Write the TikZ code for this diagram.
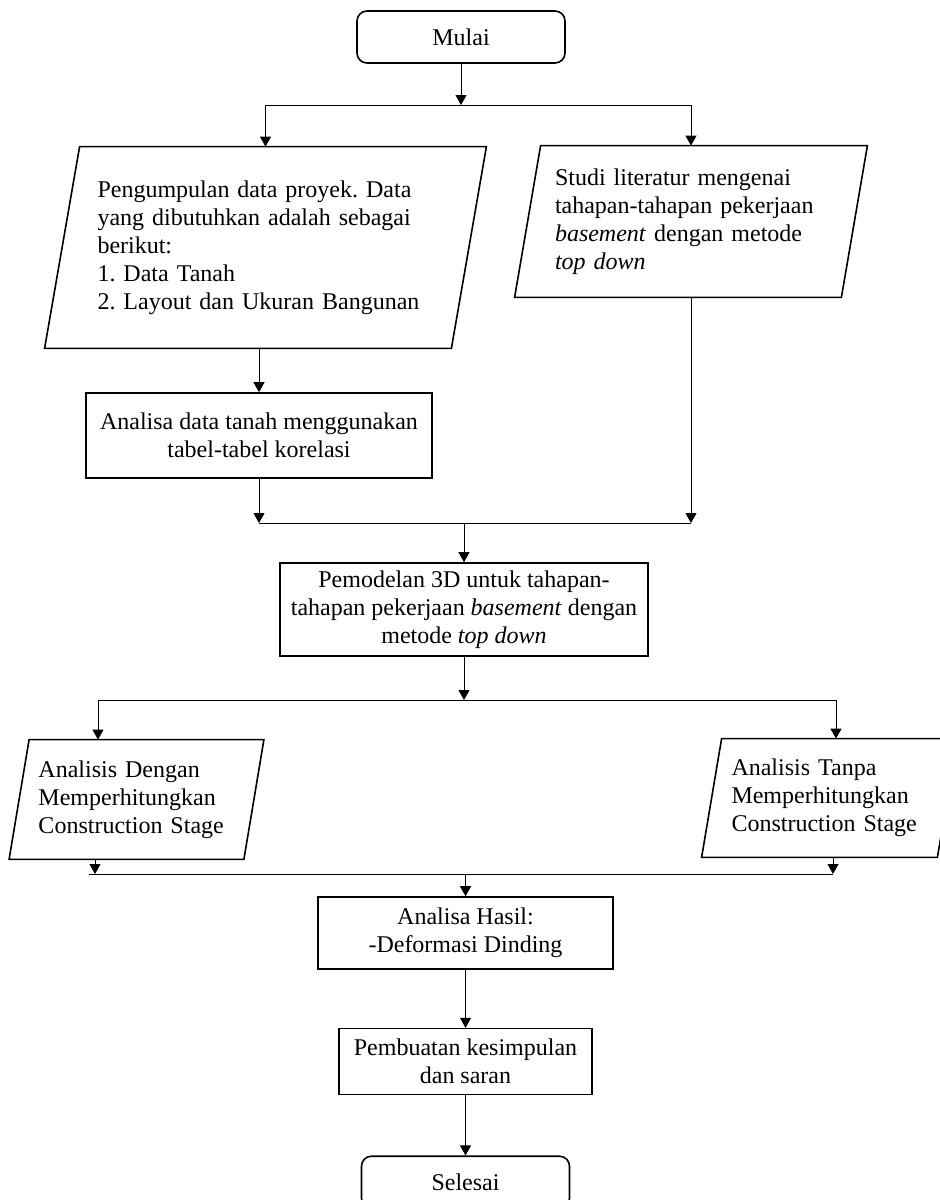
\documentclass[tikz,border=0pt]{standalone}
\usepackage{fontspec}
\setmainfont{Liberation Serif}
\frenchspacing
\usetikzlibrary{arrows.meta,positioning,calc}
\tikzset{
  termbox/.style={
    rectangle, rounded corners=5pt, draw, line width=0.8pt,
    minimum width=104pt, minimum height=26pt,
    align=center, inner sep=0pt
  },
  procbox/.style={
    rectangle, draw, line width=0.8pt,
    align=center, inner sep=0pt
  },
  inputbody/.style={
    rectangle, align=left, inner sep=0pt, text width=#1
  },
  inputbody/.default=100pt,
  frameline/.style={line width=0.8pt, line join=miter},
  flowline/.style={line width=0.5pt},
  flowarrow/.style={
    -{Triangle[length=5pt,width=5.5pt]}, line width=0.5pt
  },
}
% slanted outline round an input node
\newcommand{\slantframe}[2]{%
  \draw[frameline] ([xshift=-#2]#1.south west) -- ([xshift=-#2]#1.south east)
    -- ([xshift=#2]#1.north east) -- ([xshift=#2]#1.north west) -- cycle;}

\begin{document}
\begin{tikzpicture}[x=0.5pt, y=-0.5pt, font=\fontsize{12}{14}\selectfont]
    \useasboundingbox (0,0) rectangle (939,1200);
    % start
    \node[termbox] (mulai) at (461,37) {Mulai};
    \coordinate (cabang1) at (461,105);
    % data input and literature
    \node[inputbody=168pt, minimum width=203pt, minimum height=100.5pt] (kumpul) at (265.5,247.5)
        {Pengumpulan data proyek. Data\\ yang dibutuhkan adalah sebagai\\ berikut:\\ 1. Data Tanah\\ 2. Layout dan Ukuran Bangunan};
    \slantframe{kumpul}{8.75pt}
    \node[inputbody=136pt, minimum width=163pt, minimum height=75.5pt] (studi) at (691,221.5)
        {Studi literatur mengenai\\ tahapan-tahapan pekerjaan\\ \textit{basement} dengan metode\\ \textit{top down}};
    \slantframe{studi}{6.5pt}
    \node[procbox, minimum width=173pt, minimum height=42.5pt] (tanah) at (259,435.5)
        {Analisa data tanah menggunakan\\ tabel-tabel korelasi};
    \coordinate (gabung1) at (465,523);
    % model
    \node[procbox, minimum width=184pt, minimum height=46.5pt] (model) at (464,609.5)
        {Pemodelan 3D untuk tahapan-\\ tahapan pekerjaan \textit{basement} dengan\\ metode \textit{top down}};
    \coordinate (cabang2) at (465,700);
    \coordinate (cabangL) at (98,700);
    \coordinate (cabangR) at (836,700);
    % two analyses
    \node[inputbody=98pt, minimum width=117pt, minimum height=59.5pt] (denganCS) at (136.5,799.5)
        {Analisis Dengan\\ Memperhitungkan\\ Construction Stage};
    \slantframe{denganCS}{5pt}
    \node[inputbody=98pt, minimum width=117.5pt, minimum height=59pt] (tanpaCS) at (829.5,798)
        {Analisis Tanpa\\ Memperhitungkan\\ Construction Stage};
    \slantframe{tanpaCS}{5pt}
    \coordinate (gabungL) at (95,874);
    \coordinate (gabungR) at (833,874);
    \coordinate (gabung2) at (465,874);
    % results and end
    \node[procbox, minimum width=147.5pt, minimum height=36pt] (hasil) at (465.5,933)
        {Analisa Hasil:\\ -Deformasi Dinding};
    \node[procbox, minimum width=126.5pt, minimum height=33pt, below=29pt of hasil] (simpul)
        {Pembuatan kesimpulan\\ dan saran};
    \node[termbox, below=30pt of simpul] (selesai) {Selesai};
    % connectors
    \draw[flowarrow] (mulai) -- (cabang1);
    \draw[flowline] (kumpul.north |- cabang1) -- (studi.north |- cabang1);
    \draw[flowarrow] (kumpul.north |- cabang1) -- (kumpul.north);
    \draw[flowarrow] (studi.north |- cabang1) -- (studi.north);
    \draw[flowarrow] (kumpul.south -| tanah.north) -- (tanah.north);
    \draw[flowarrow] (tanah.south) -- (tanah.south |- gabung1);
    \draw[flowarrow] (studi.south) -- (studi.south |- gabung1);
    \draw[flowline] (tanah.south |- gabung1) -- (studi.south |- gabung1);
    \draw[flowarrow] (model.north |- gabung1) -- (model.north);
    \draw[flowarrow] (model.south) -- (model.south |- cabang2);
    \draw[flowline] (cabangL) -- (cabangR);
    \draw[flowarrow] (cabangL) -- (cabangL |- denganCS.north);
    \draw[flowarrow] (cabangR) -- (cabangR |- tanpaCS.north);
    \draw[flowarrow] (gabungL |- denganCS.south) -- (gabungL);
    \draw[flowarrow] (gabungR |- tanpaCS.south) -- (gabungR);
    \draw[flowline] ([xshift=-3pt]gabungL) -- (gabungR);
    \draw[flowarrow] (hasil.north |- gabung2) -- (hasil.north);
    \draw[flowarrow] (hasil) -- (simpul);
    \draw[flowarrow] (simpul) -- (selesai);
\end{tikzpicture}
\end{document}
